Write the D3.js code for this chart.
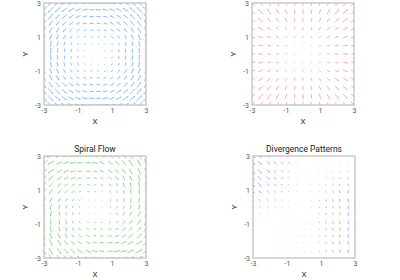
<!DOCTYPE html>
<html>
<head>
<meta charset="utf-8">
<script src="https://cdn.jsdelivr.net/npm/d3@7"></script>
<style>
body { margin: 0; background: #fff; }
text { font-family: "Roboto", "Liberation Sans", sans-serif; }
</style>
</head>
<body>
<svg id="chart" width="400" height="280"></svg>
<script>
// Tick labels shared by all four panels
const tickVals = [-3, -1, 1, 3];

// Panel 1: vortex (grid 16 x 16, rows from top y=3 to bottom y=-3)
const vortexXs = [-3, -2.6, -2.2, -1.8, -1.4, -1, -0.6, -0.2, 0.2, 0.6, 1, 1.4, 1.8, 2.2, 2.6, 3];
const vortexYs = [3, 2.6, 2.2, 1.8, 1.4, 1, 0.6, 0.2, -0.2, -0.6, -1, -1.4, -1.8, -2.2, -2.6, -3];
const vortexU = [
  [-3, -3, -3, -3, -3, -3, -3, -3, -3, -3, -3, -3, -3, -3, -3, -3],
  [-2.6, -2.6, -2.6, -2.6, -2.6, -2.6, -2.6, -2.6, -2.6, -2.6, -2.6, -2.6, -2.6, -2.6, -2.6, -2.6],
  [-2.2, -2.2, -2.2, -2.2, -2.2, -2.2, -2.2, -2.2, -2.2, -2.2, -2.2, -2.2, -2.2, -2.2, -2.2, -2.2],
  [-1.8, -1.8, -1.8, -1.8, -1.8, -1.8, -1.8, -1.8, -1.8, -1.8, -1.8, -1.8, -1.8, -1.8, -1.8, -1.8],
  [-1.4, -1.4, -1.4, -1.4, -1.4, -1.4, -1.4, -1.4, -1.4, -1.4, -1.4, -1.4, -1.4, -1.4, -1.4, -1.4],
  [-1, -1, -1, -1, -1, -1, -1, -1, -1, -1, -1, -1, -1, -1, -1, -1],
  [-0.6, -0.6, -0.6, -0.6, -0.6, -0.6, -0.6, -0.6, -0.6, -0.6, -0.6, -0.6, -0.6, -0.6, -0.6, -0.6],
  [-0.2, -0.2, -0.2, -0.2, -0.2, -0.2, -0.2, -0.2, -0.2, -0.2, -0.2, -0.2, -0.2, -0.2, -0.2, -0.2],
  [0.2, 0.2, 0.2, 0.2, 0.2, 0.2, 0.2, 0.2, 0.2, 0.2, 0.2, 0.2, 0.2, 0.2, 0.2, 0.2],
  [0.6, 0.6, 0.6, 0.6, 0.6, 0.6, 0.6, 0.6, 0.6, 0.6, 0.6, 0.6, 0.6, 0.6, 0.6, 0.6],
  [1, 1, 1, 1, 1, 1, 1, 1, 1, 1, 1, 1, 1, 1, 1, 1],
  [1.4, 1.4, 1.4, 1.4, 1.4, 1.4, 1.4, 1.4, 1.4, 1.4, 1.4, 1.4, 1.4, 1.4, 1.4, 1.4],
  [1.8, 1.8, 1.8, 1.8, 1.8, 1.8, 1.8, 1.8, 1.8, 1.8, 1.8, 1.8, 1.8, 1.8, 1.8, 1.8],
  [2.2, 2.2, 2.2, 2.2, 2.2, 2.2, 2.2, 2.2, 2.2, 2.2, 2.2, 2.2, 2.2, 2.2, 2.2, 2.2],
  [2.6, 2.6, 2.6, 2.6, 2.6, 2.6, 2.6, 2.6, 2.6, 2.6, 2.6, 2.6, 2.6, 2.6, 2.6, 2.6],
  [3, 3, 3, 3, 3, 3, 3, 3, 3, 3, 3, 3, 3, 3, 3, 3]
];
const vortexRowV = [-3, -2.6, -2.2, -1.8, -1.4, -1, -0.6, -0.2, 0.2, 0.6, 1, 1.4, 1.8, 2.2, 2.6, 3];
const vortexV = [
  vortexRowV, vortexRowV, vortexRowV, vortexRowV, vortexRowV, vortexRowV, vortexRowV, vortexRowV,
  vortexRowV, vortexRowV, vortexRowV, vortexRowV, vortexRowV, vortexRowV, vortexRowV, vortexRowV
];

// Panel 2: outward source (grid 13 x 13)
const sourceXs = [-3, -2.5, -2, -1.5, -1, -0.5, 0, 0.5, 1, 1.5, 2, 2.5, 3];
const sourceYs = [3, 2.5, 2, 1.5, 1, 0.5, 0, -0.5, -1, -1.5, -2, -2.5, -3];
const sourceRowU = [-3, -2.5, -2, -1.5, -1, -0.5, 0, 0.5, 1, 1.5, 2, 2.5, 3];
const sourceU = [
  sourceRowU, sourceRowU, sourceRowU, sourceRowU, sourceRowU, sourceRowU, sourceRowU,
  sourceRowU, sourceRowU, sourceRowU, sourceRowU, sourceRowU, sourceRowU
];
const sourceV = [
  [3, 3, 3, 3, 3, 3, 3, 3, 3, 3, 3, 3, 3],
  [2.5, 2.5, 2.5, 2.5, 2.5, 2.5, 2.5, 2.5, 2.5, 2.5, 2.5, 2.5, 2.5],
  [2, 2, 2, 2, 2, 2, 2, 2, 2, 2, 2, 2, 2],
  [1.5, 1.5, 1.5, 1.5, 1.5, 1.5, 1.5, 1.5, 1.5, 1.5, 1.5, 1.5, 1.5],
  [1, 1, 1, 1, 1, 1, 1, 1, 1, 1, 1, 1, 1],
  [0.5, 0.5, 0.5, 0.5, 0.5, 0.5, 0.5, 0.5, 0.5, 0.5, 0.5, 0.5, 0.5],
  [0, 0, 0, 0, 0, 0, 0, 0, 0, 0, 0, 0, 0],
  [-0.5, -0.5, -0.5, -0.5, -0.5, -0.5, -0.5, -0.5, -0.5, -0.5, -0.5, -0.5, -0.5],
  [-1, -1, -1, -1, -1, -1, -1, -1, -1, -1, -1, -1, -1],
  [-1.5, -1.5, -1.5, -1.5, -1.5, -1.5, -1.5, -1.5, -1.5, -1.5, -1.5, -1.5, -1.5],
  [-2, -2, -2, -2, -2, -2, -2, -2, -2, -2, -2, -2, -2],
  [-2.5, -2.5, -2.5, -2.5, -2.5, -2.5, -2.5, -2.5, -2.5, -2.5, -2.5, -2.5, -2.5],
  [-3, -3, -3, -3, -3, -3, -3, -3, -3, -3, -3, -3, -3]
];

// Panel 3: spiral flow (grid 15 x 15)
const spiralXs = [-3, -2.6, -2.1, -1.7, -1.3, -0.9, -0.4, 0, 0.4, 0.9, 1.3, 1.7, 2.1, 2.6, 3];
const spiralYs = [3, 2.6, 2.1, 1.7, 1.3, 0.9, 0.4, 0, -0.4, -0.9, -1.3, -1.7, -2.1, -2.6, -3];
const spiralU = [
  [-3.9, -3.8, -3.6, -3.5, -3.4, -3.3, -3.1, -3, -2.9, -2.7, -2.6, -2.5, -2.4, -2.2, -2.1],
  [-3.5, -3.4, -3.2, -3.1, -3, -2.9, -2.7, -2.6, -2.5, -2.3, -2.2, -2.1, -2, -1.8, -1.7],
  [-3, -2.9, -2.7, -2.6, -2.5, -2.4, -2.2, -2.1, -2, -1.8, -1.7, -1.6, -1.5, -1.3, -1.2],
  [-2.6, -2.5, -2.3, -2.2, -2.1, -2, -1.8, -1.7, -1.6, -1.4, -1.3, -1.2, -1.1, -0.9, -0.8],
  [-2.2, -2.1, -1.9, -1.8, -1.7, -1.6, -1.4, -1.3, -1.2, -1, -0.9, -0.8, -0.7, -0.5, -0.4],
  [-1.8, -1.7, -1.5, -1.4, -1.3, -1.2, -1, -0.9, -0.8, -0.6, -0.5, -0.4, -0.3, -0.1, 0],
  [-1.3, -1.2, -1, -0.9, -0.8, -0.7, -0.5, -0.4, -0.3, -0.1, 0, 0.1, 0.2, 0.4, 0.5],
  [-0.9, -0.8, -0.6, -0.5, -0.4, -0.3, -0.1, 0, 0.1, 0.3, 0.4, 0.5, 0.6, 0.8, 0.9],
  [-0.5, -0.4, -0.2, -0.1, 0, 0.1, 0.3, 0.4, 0.5, 0.7, 0.8, 0.9, 1, 1.2, 1.3],
  [0, 0.1, 0.3, 0.4, 0.5, 0.6, 0.8, 0.9, 1, 1.2, 1.3, 1.4, 1.5, 1.7, 1.8],
  [0.4, 0.5, 0.7, 0.8, 0.9, 1, 1.2, 1.3, 1.4, 1.6, 1.7, 1.8, 1.9, 2.1, 2.2],
  [0.8, 0.9, 1.1, 1.2, 1.3, 1.4, 1.6, 1.7, 1.8, 2, 2.1, 2.2, 2.3, 2.5, 2.6],
  [1.2, 1.3, 1.5, 1.6, 1.7, 1.8, 2, 2.1, 2.2, 2.4, 2.5, 2.6, 2.7, 2.9, 3],
  [1.7, 1.8, 2, 2.1, 2.2, 2.3, 2.5, 2.6, 2.7, 2.9, 3, 3.1, 3.2, 3.4, 3.5],
  [2.1, 2.2, 2.4, 2.5, 2.6, 2.7, 2.9, 3, 3.1, 3.3, 3.4, 3.5, 3.6, 3.8, 3.9]
];
const spiralV = [
  [-2.1, -1.7, -1.2, -0.8, -0.4, 0, 0.5, 0.9, 1.3, 1.8, 2.2, 2.6, 3, 3.5, 3.9],
  [-2.2, -1.8, -1.3, -0.9, -0.5, -0.1, 0.4, 0.8, 1.2, 1.7, 2.1, 2.5, 2.9, 3.4, 3.8],
  [-2.4, -2, -1.5, -1.1, -0.7, -0.3, 0.2, 0.6, 1, 1.5, 1.9, 2.3, 2.7, 3.2, 3.6],
  [-2.5, -2.1, -1.6, -1.2, -0.8, -0.4, 0.1, 0.5, 0.9, 1.4, 1.8, 2.2, 2.6, 3.1, 3.5],
  [-2.6, -2.2, -1.7, -1.3, -0.9, -0.5, 0, 0.4, 0.8, 1.3, 1.7, 2.1, 2.5, 3, 3.4],
  [-2.7, -2.3, -1.8, -1.4, -1, -0.6, -0.1, 0.3, 0.7, 1.2, 1.6, 2, 2.4, 2.9, 3.3],
  [-2.9, -2.5, -2, -1.6, -1.2, -0.8, -0.3, 0.1, 0.5, 1, 1.4, 1.8, 2.2, 2.7, 3.1],
  [-3, -2.6, -2.1, -1.7, -1.3, -0.9, -0.4, 0, 0.4, 0.9, 1.3, 1.7, 2.1, 2.6, 3],
  [-3.1, -2.7, -2.2, -1.8, -1.4, -1, -0.5, -0.1, 0.3, 0.8, 1.2, 1.6, 2, 2.5, 2.9],
  [-3.3, -2.9, -2.4, -2, -1.6, -1.2, -0.7, -0.3, 0.1, 0.6, 1, 1.4, 1.8, 2.3, 2.7],
  [-3.4, -3, -2.5, -2.1, -1.7, -1.3, -0.8, -0.4, 0, 0.5, 0.9, 1.3, 1.7, 2.2, 2.6],
  [-3.5, -3.1, -2.6, -2.2, -1.8, -1.4, -0.9, -0.5, -0.1, 0.4, 0.8, 1.2, 1.6, 2.1, 2.5],
  [-3.6, -3.2, -2.7, -2.3, -1.9, -1.5, -1, -0.6, -0.2, 0.3, 0.7, 1.1, 1.5, 2, 2.4],
  [-3.8, -3.4, -2.9, -2.5, -2.1, -1.7, -1.2, -0.8, -0.4, 0.1, 0.5, 0.9, 1.3, 1.8, 2.2],
  [-3.9, -3.5, -3, -2.6, -2.2, -1.8, -1.3, -0.9, -0.5, 0, 0.4, 0.8, 1.2, 1.7, 2.1]
];

// Panel 4: divergence patterns (grid 15 x 15)
const divXs = [-3, -2.6, -2.1, -1.7, -1.3, -0.9, -0.4, 0, 0.4, 0.9, 1.3, 1.7, 2.1, 2.6, 3];
const divYs = [3, 2.6, 2.1, 1.7, 1.3, 0.9, 0.4, 0, -0.4, -0.9, -1.3, -1.7, -2.1, -2.6, -3];
const divU = [
  [2.7, 2.3, 1.9, 1.5, 1.2, 0.8, 0.4, 0, 0.3, 0.4, 0.5, 0.5, 0.5, 0.4, 0.2],
  [2.7, 2.3, 1.9, 1.5, 1.2, 0.8, 0.4, 0, -0.08, -0.15, -0.18, -0.18, -0.15, -0.08, 0],
  [2.7, 2.3, 1.9, 1.5, 1.2, 0.8, 0.4, 0, -0.12, -0.24, -0.28, -0.28, -0.24, -0.12, 0],
  [2.7, 2.3, 1.9, 1.5, 1.2, 0.8, 0.4, 0, -0.17, -0.33, -0.39, -0.39, -0.33, -0.17, 0],
  [2.4, 2.1, 1.7, 1.4, 1.1, 0.7, 0.4, 0, -0.2, -0.4, -0.5, -0.5, -0.4, -0.2, 0],
  [2, 1.7, 1.4, 1.1, 0.9, 0.6, 0.3, 0, -0.3, -0.5, -0.6, -0.6, -0.5, -0.3, 0],
  [1.5, 1.3, 1, 0.8, 0.7, 0.4, 0.2, 0, -0.3, -0.6, -0.7, -0.7, -0.6, -0.3, 0],
  [1.1, 0.9, 0.8, 0.6, 0.5, 0.3, 0.2, 0, -0.3, -0.6, -0.7, -0.7, -0.6, -0.3, 0],
  [0.7, 0.6, 0.5, 0.4, 0.3, 0.2, 0.1, 0, -0.3, -0.6, -0.7, -0.7, -0.6, -0.3, 0],
  [0.3, 0.2, 0.2, -0.1, -0.2, -0.2, -0.2, -0.2, -0.3, -0.6, -0.7, -0.7, -0.6, -0.3, 0],
  [0.14, 0.12, 0.1, -0.2, -0.3, -0.3, -0.3, -0.3, -0.3, -0.6, -0.7, -0.7, -0.6, -0.3, 0],
  [0.14, 0.12, 0.1, -0.2, -0.3, -0.3, -0.3, -0.3, -0.3, -0.6, -0.7, -0.7, -0.6, -0.3, 0],
  [0.14, 0.12, 0.1, -0.2, -0.3, -0.3, -0.3, -0.3, -0.3, -0.6, -0.7, -0.7, -0.6, -0.3, 0],
  [0.14, 0.12, 0.1, -0.2, -0.3, -0.3, -0.3, -0.3, -0.3, -0.6, -0.7, -0.7, -0.6, -0.3, 0],
  [0.14, 0.12, 0.1, 0.08, 0.06, 0.04, 0.02, 0, -0.1, -0.2, -0.2, -0.2, -0.2, -0.1, 0]
];
const divV = [
  [-2.7, -2.3, -1.9, -1.5, -1.2, -0.8, -0.4, 0, 0.1, 0.1, 0.2, 0.2, 0.3, 0.3, 0.4],
  [-2.7, -2.3, -1.9, -1.5, -1.2, -0.8, -0.4, 0, 0.1, 0.2, 0.3, 0.38, 0.48, 0.58, 0.68],
  [-2.7, -2.3, -1.9, -1.5, -1.2, -0.8, -0.4, 0, 0.16, 0.32, 0.48, 0.6, 0.76, 0.92, 1.08],
  [-2.7, -2.3, -1.9, -1.5, -1.2, -0.8, -0.4, 0, 0.22, 0.44, 0.66, 0.83, 1.05, 1.27, 1.49],
  [-2.4, -2.1, -1.7, -1.4, -1.1, -0.7, -0.4, 0, 0.3, 0.6, 0.8, 1.1, 1.3, 1.6, 1.9],
  [-2, -1.7, -1.4, -1.1, -0.9, -0.6, -0.3, 0, 0.3, 0.7, 1, 1.3, 1.6, 2, 2.3],
  [-1.5, -1.3, -1, -0.8, -0.7, -0.4, -0.2, 0, 0.4, 0.8, 1.2, 1.5, 1.9, 2.3, 2.7],
  [-1.1, -0.9, -0.8, -0.6, -0.5, -0.3, -0.2, 0, 0.4, 0.8, 1.2, 1.5, 1.9, 2.3, 2.7],
  [-0.7, -0.6, -0.5, -0.4, -0.3, -0.2, -0.1, 0, 0.4, 0.8, 1.2, 1.5, 1.9, 2.3, 2.7],
  [-0.3, -0.2, -0.2, 0.1, 0.2, 0.2, 0.25, 0.25, 0.4, 0.8, 1.2, 1.5, 1.9, 2.3, 2.7],
  [-0.14, -0.12, -0.1, 0.2, 0.3, 0.3, 0.35, 0.35, 0.4, 0.8, 1.2, 1.5, 1.9, 2.3, 2.7],
  [-0.14, -0.12, -0.1, 0.2, 0.3, 0.3, 0.35, 0.35, 0.4, 0.8, 1.2, 1.5, 1.9, 2.3, 2.7],
  [-0.14, -0.12, -0.1, 0.2, 0.3, 0.3, 0.35, 0.35, 0.4, 0.8, 1.2, 1.5, 1.9, 2.3, 2.7],
  [-0.14, -0.12, -0.1, 0.2, 0.3, 0.3, 0.35, 0.35, 0.4, 0.8, 1.2, 1.5, 1.9, 2.3, 2.7],
  [-0.14, -0.12, -0.1, -0.08, -0.06, -0.04, -0.02, 0, 0.1, 0.2, 0.4, 0.5, 0.6, 0.7, 0.8]
];

const svg = d3.select("#chart");

const panels = [
  { id: "p1", left: 44, top: 3, title: "", xs: vortexXs, ys: vortexYs, U: vortexU, V: vortexV, color: "#5aa8e8", k: 0.13 },
  { id: "p2", left: 252, top: 3, title: "", xs: sourceXs, ys: sourceYs, U: sourceU, V: sourceV, color: "#f08c8c", k: 0.115 },
  { id: "p3", left: 44, top: 156, title: "Spiral Flow", xs: spiralXs, ys: spiralYs, U: spiralU, V: spiralV, color: "#66cc66", k: 0.12 },
  { id: "p4", left: 253, top: 156, title: "Divergence Patterns", xs: divXs, ys: divYs, U: divU, V: divV, color: "#b07cf0", k: 0.1 }
];

const size = 102;
const defs = svg.append("defs");

panels.forEach(p => {
  const g = svg.append("g").attr("transform", `translate(${p.left},${p.top})`);
  const x = d3.scaleLinear().domain([-3, 3]).range([0, size]);
  const y = d3.scaleLinear().domain([-3, 3]).range([size, 0]);

  defs.append("clipPath").attr("id", "clip-" + p.id)
    .append("rect").attr("width", size).attr("height", size);

  const arrows = g.append("g").attr("clip-path", `url(#clip-${p.id})`);

  // arrows, pivot at the middle of each vector
  p.ys.forEach((yv, i) => {
    p.xs.forEach((xv, j) => {
      const u = p.U[i][j] * p.k, v = p.V[i][j] * p.k;
      const x0 = x(xv - u / 2), y0 = y(yv - v / 2);
      const x1 = x(xv + u / 2), y1 = y(yv + v / 2);
      const len = Math.hypot(x1 - x0, y1 - y0);
      if (len < 0.3) return;
      const ux = (x1 - x0) / len, uy = (y1 - y0) / len;
      const h = Math.min(1.6, len * 0.35), w = h * 0.45;
      const bx = x1 - ux * h, by = y1 - uy * h;
      arrows.append("line")
        .attr("x1", x0).attr("y1", y0)
        .attr("x2", bx).attr("y2", by)
        .attr("stroke", p.color)
        .attr("stroke-width", 0.7);
      arrows.append("path")
        .attr("d", `M${x1},${y1}L${bx - uy * w},${by + ux * w}L${bx + uy * w},${by - ux * w}Z`)
        .attr("fill", p.color);
    });
  });

  // frame
  g.append("rect")
    .attr("width", size).attr("height", size)
    .attr("fill", "none")
    .attr("stroke", "#bdbdbd")
    .attr("stroke-width", 1.2);

  const fmt = d => d < 0 ? "-" + Math.abs(d) : String(d);

  const xAxis = g.append("g")
    .attr("transform", `translate(0,${size})`)
    .call(d3.axisBottom(x).tickValues(tickVals).tickSize(0).tickPadding(3).tickFormat(fmt));
  xAxis.select(".domain").remove();
  xAxis.selectAll("text").attr("font-size", 7).attr("fill", "#555")
    .style("font-family", "Roboto, sans-serif");

  const yAxis = g.append("g")
    .call(d3.axisLeft(y).tickValues(tickVals).tickSize(0).tickPadding(3).tickFormat(fmt));
  yAxis.select(".domain").remove();
  yAxis.selectAll("text").attr("font-size", 7).attr("fill", "#555")
    .style("font-family", "Roboto, sans-serif");

  g.append("text")
    .attr("x", size / 2).attr("y", size + 19)
    .attr("text-anchor", "middle")
    .attr("font-size", 8).attr("fill", "#333")
    .text("X");

  g.append("text")
    .attr("transform", `translate(-16,${size / 2}) rotate(-90)`)
    .attr("text-anchor", "middle")
    .attr("font-size", 8).attr("fill", "#333")
    .text("Y");

  if (p.title) {
    g.append("text")
      .attr("x", size / 2).attr("y", -4)
      .attr("text-anchor", "middle")
      .attr("font-size", 8.5).attr("fill", "#222")
      .text(p.title);
  }
});
</script>
</body>
</html>
